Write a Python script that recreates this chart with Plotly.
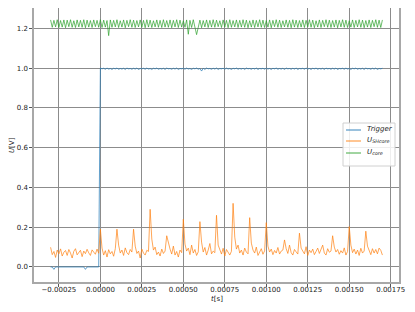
import numpy as np
import plotly.graph_objects as go

# Sampling grid (from -0.0003 s to 0.0017 s)
t_start = -0.0003
t_end = 0.0017

trigger = [
    0.0, 0.0, -0.012, 0.0, 0.0, 0.0, 0.0, 0.0, 0.0, 0.0,
    0.0, 0.0, 0.0, 0.0, 0.0, 0.0, 0.0, 0.0, 0.0, 0.0,
    0.0, -0.012, 0.0, 0.0, 0.0, 0.0, 0.0, 0.0, 0.0, 0.0,
    1.000, 0.996, 0.999, 0.994, 1.000, 0.995, 0.998, 0.993, 0.999, 0.996,
    1.000, 0.994, 0.998, 0.995, 0.999, 0.993, 1.000, 0.996, 0.998, 0.994,
    0.999, 0.995, 1.000, 0.993, 0.998, 0.996, 0.999, 0.994, 1.000, 0.995,
    0.998, 0.993, 0.999, 0.996, 1.000, 0.994, 0.998, 0.995, 0.999, 0.993,
    1.000, 0.996, 0.998, 0.994, 0.999, 0.995, 1.000, 0.993, 0.998, 0.996,
    0.999, 0.994, 1.000, 0.995, 0.998, 0.993, 0.999, 0.996, 1.000, 0.994,
    0.998, 0.985, 0.999, 0.993, 1.000, 0.996, 0.998, 0.994, 0.999, 0.995,
    1.000, 0.993, 0.998, 0.996, 0.999, 0.994, 1.000, 0.995, 0.998, 0.993,
    0.999, 0.996, 1.000, 0.994, 0.998, 0.995, 0.999, 0.993, 1.000, 0.996,
    0.998, 0.994, 0.999, 0.995, 1.000, 0.993, 0.998, 0.996, 0.999, 0.994,
    1.000, 0.995, 0.998, 0.993, 0.999, 0.996, 1.000, 0.994, 0.998, 0.995,
    0.999, 0.993, 1.000, 0.996, 0.998, 0.994, 0.999, 0.995, 1.000, 0.993,
    0.998, 0.996, 0.999, 0.994, 1.000, 0.995, 0.998, 0.993, 0.999, 0.996,
    1.000, 0.994, 0.998, 0.995, 0.999, 0.993, 1.000, 0.996, 0.998, 0.994,
    0.999, 0.995, 1.000, 0.993, 0.998, 0.996, 0.999, 0.994, 1.000, 0.995,
    0.998, 0.993, 0.999, 0.996, 1.000, 0.994, 0.998, 0.995, 0.999, 0.993,
    1.000, 0.996, 0.998, 0.994, 0.999, 0.995, 1.000, 0.993, 0.998, 0.996,
    0.999,
]

u_shcore = [
    0.099, 0.062, 0.078, 0.048, 0.085, 0.066, 0.091, 0.055, 0.074, 0.083,
    0.058, 0.088, 0.070, 0.045, 0.079, 0.092, 0.061, 0.075, 0.084, 0.052,
    0.080, 0.067, 0.089, 0.071, 0.058, 0.086, 0.073, 0.064, 0.090, 0.069,
    0.190, 0.095, 0.060, 0.082, 0.050, 0.087, 0.066, 0.078, 0.054, 0.092,
    0.190, 0.110, 0.070, 0.085, 0.058, 0.096, 0.072, 0.062, 0.088, 0.075,
    0.190, 0.105, 0.068, 0.080, 0.045, 0.090, 0.070, 0.060, 0.084, 0.078,
    0.290, 0.140, 0.085, 0.100, 0.062, 0.075, 0.055, 0.090, 0.068, 0.080,
    0.157, 0.120, 0.090, 0.065, 0.105, 0.060, 0.078, 0.050, 0.085, 0.072,
    0.240, 0.115, 0.080, 0.095, 0.062, 0.110, 0.070, 0.088, 0.058, 0.076,
    0.228, 0.125, 0.075, 0.098, 0.060, 0.085, 0.118, 0.066, 0.080, 0.072,
    0.260, 0.110, 0.082, 0.065, 0.094, 0.055, 0.088, 0.070, 0.060, 0.079,
    0.320, 0.150, 0.090, 0.110, 0.070, 0.085, 0.060, 0.095, 0.075, 0.066,
    0.248, 0.120, 0.085, 0.070, 0.100, 0.058, 0.078, 0.092, 0.064, 0.081,
    0.223, 0.105, 0.075, 0.090, 0.062, 0.083, 0.070, 0.098, 0.065, 0.080,
    0.085, 0.136, 0.092, 0.068, 0.110, 0.072, 0.060, 0.088, 0.076, 0.065,
    0.170, 0.095, 0.080, 0.066, 0.102, 0.058, 0.085, 0.072, 0.090, 0.062,
    0.078, 0.095, 0.068, 0.085, 0.110, 0.070, 0.060, 0.092, 0.074, 0.080,
    0.157, 0.100, 0.075, 0.088, 0.064, 0.082, 0.070, 0.096, 0.060, 0.078,
    0.203, 0.110, 0.072, 0.090, 0.065, 0.085, 0.058, 0.094, 0.070, 0.080,
    0.180, 0.105, 0.078, 0.062, 0.092, 0.070, 0.088, 0.066, 0.095, 0.084,
    0.060,
]

u_core = [
    1.242, 1.205, 1.240, 1.207, 1.243, 1.204, 1.239, 1.206, 1.242, 1.203,
    1.241, 1.208, 1.243, 1.205, 1.238, 1.204, 1.242, 1.207, 1.240, 1.205,
    1.243, 1.203, 1.241, 1.206, 1.239, 1.204, 1.242, 1.208, 1.240, 1.205,
    1.243, 1.204, 1.241, 1.206, 1.239, 1.163, 1.242, 1.205, 1.240, 1.207,
    1.243, 1.204, 1.238, 1.206, 1.242, 1.203, 1.240, 1.208, 1.243, 1.205,
    1.241, 1.204, 1.239, 1.207, 1.242, 1.205, 1.240, 1.203, 1.243, 1.206,
    1.241, 1.204, 1.238, 1.207, 1.242, 1.205, 1.240, 1.204, 1.243, 1.206,
    1.239, 1.205, 1.242, 1.203, 1.240, 1.207, 1.243, 1.204, 1.241, 1.206,
    1.238, 1.205, 1.242, 1.170, 1.240, 1.204, 1.243, 1.206, 1.168, 1.205,
    1.241, 1.203, 1.239, 1.207, 1.242, 1.204, 1.240, 1.206, 1.243, 1.205,
    1.241, 1.208, 1.238, 1.204, 1.242, 1.206, 1.240, 1.203, 1.243, 1.205,
    1.239, 1.207, 1.242, 1.204, 1.240, 1.206, 1.243, 1.205, 1.241, 1.203,
    1.238, 1.206, 1.242, 1.204, 1.240, 1.207, 1.243, 1.205, 1.241, 1.204,
    1.239, 1.206, 1.242, 1.203, 1.240, 1.208, 1.243, 1.205, 1.241, 1.204,
    1.238, 1.207, 1.242, 1.205, 1.240, 1.203, 1.243, 1.206, 1.241, 1.204,
    1.239, 1.206, 1.242, 1.204, 1.240, 1.207, 1.243, 1.205, 1.241, 1.203,
    1.238, 1.206, 1.242, 1.204, 1.240, 1.208, 1.243, 1.205, 1.241, 1.204,
    1.239, 1.206, 1.242, 1.203, 1.240, 1.207, 1.243, 1.205, 1.241, 1.204,
    1.238, 1.206, 1.242, 1.204, 1.240, 1.207, 1.243, 1.205, 1.241, 1.203,
    1.239, 1.206, 1.242, 1.204, 1.240, 1.208, 1.243, 1.205, 1.241, 1.204,
    1.242,
]

series_names = ["<i>Trigger</i>",
                "<i>U</i><sub><i>SHcore</i></sub>",
                "<i>U</i><sub><i>core</i></sub>"]
series_colors = ["#1f77b4", "#ff7f0e", "#2ca02c"]

x_tickvals = [-0.00025, 0.0, 0.00025, 0.0005, 0.00075, 0.001, 0.00125, 0.0015, 0.00175]
x_ticktext = ["\u22120.00025", "0.00000", "0.00025", "0.00050", "0.00075",
              "0.00100", "0.00125", "0.00150", "0.00175"]
y_tickvals = [0.0, 0.2, 0.4, 0.6, 0.8, 1.0, 1.2]
y_ticktext = ["0.0", "0.2", "0.4", "0.6", "0.8", "1.0", "1.2"]

t = np.linspace(t_start, t_end, len(u_shcore))

FONT = "DejaVu Sans"
TXT = "#222222"

# The page body adds an 8px offset; the figure is sized to compensate.
OFF = 8
W, H = 415 - OFF, 312 - OFF
PL, PR, PT, PB = 34, 399, 8, 282          # plot area in page pixels


def px(xp):
    return (xp - PL) / (PR - PL)


def py(yp):
    return (PB - yp) / (PB - PT)


fig = go.Figure()
for name, vals, col in zip(series_names, [trigger, u_shcore, u_core], series_colors):
    fig.add_trace(go.Scatter(x=t, y=vals, mode="lines", name=name,
                             line=dict(color=col, width=0.7), showlegend=False))

axis_common = dict(
    showgrid=True, gridcolor="#8c8c8c", gridwidth=1,
    showline=True, linecolor="#a8a8a8", linewidth=1.5, mirror=True,
    ticks="outside", ticklen=3, tickcolor="#555555", tickwidth=1,
    zeroline=False, automargin=False,
    tickfont=dict(family=FONT, size=7, color=TXT),
)

# Legend drawn as a box with sample lines and labels
shapes = [dict(type="rect", xref="paper", yref="paper",
               x0=px(343), x1=px(395), y0=py(166), y1=py(123),
               fillcolor="rgba(255,255,255,0.85)", line=dict(color="#d0d0d0", width=1),
               layer="above")]
annotations = []
leg_y = [130, 141, 153]
for name, col, yy in zip(series_names, series_colors, leg_y):
    shapes.append(dict(type="line", xref="paper", yref="paper",
                       x0=px(346), x1=px(361), y0=py(yy), y1=py(yy),
                       line=dict(color=col, width=0.9), layer="above"))
    annotations.append(dict(text=name, xref="paper", yref="paper",
                            x=px(365), y=py(yy - 1), xanchor="left", yanchor="middle",
                            showarrow=False, font=dict(family=FONT, size=7, color=TXT)))

annotations += [
    dict(text="<i>t</i>[s]", xref="paper", yref="paper", x=0.5, y=py(299),
         xanchor="center", yanchor="middle", showarrow=False,
         font=dict(family=FONT, size=7, color=TXT)),
    dict(text="<i>U</i>[V]", xref="paper", yref="paper", x=px(12), y=0.5,
         xanchor="center", yanchor="middle", showarrow=False, textangle=-90,
         font=dict(family=FONT, size=7, color=TXT)),
]

fig.update_layout(
    width=W, height=H,
    margin=dict(l=PL - OFF, r=W - (PR - OFF), t=PT - OFF, b=H - (PB - OFF),
                autoexpand=False),
    paper_bgcolor="white", plot_bgcolor="white",
    font=dict(family=FONT, size=7, color=TXT),
    showlegend=False,
    xaxis=dict(range=[-0.0004, 0.0018], tickvals=x_tickvals, ticktext=x_ticktext,
               ticklabelstandoff=-3, **axis_common),
    yaxis=dict(range=[-0.0755, 1.302], tickvals=y_tickvals, ticktext=y_ticktext,
               **axis_common),
    shapes=shapes,
    annotations=annotations,
)

fig.write_html("out.html")
